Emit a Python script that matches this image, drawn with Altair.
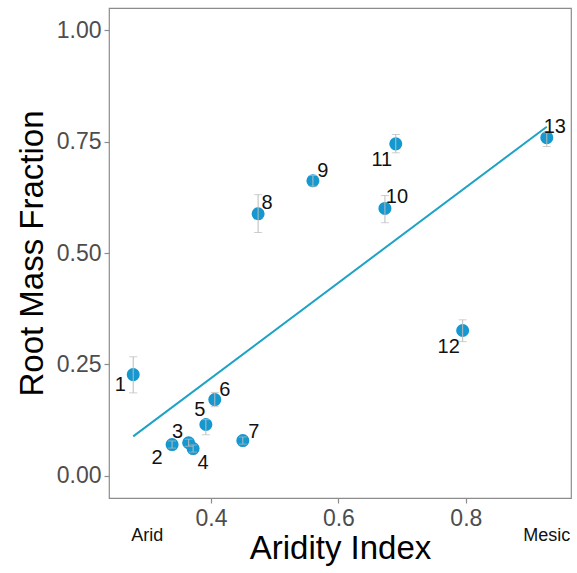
import altair as alt
import pandas as pd

site = [str(i) for i in range(1, 14)]
aridity = [0.278, 0.339, 0.365, 0.372, 0.392, 0.406, 0.450, 0.474, 0.560, 0.673, 0.690, 0.795, 0.927]
rmf = [0.227, 0.070, 0.074, 0.061, 0.115, 0.171, 0.079, 0.588, 0.662, 0.600, 0.745, 0.326, 0.759]
rmf_lo = [0.186, 0.062, 0.066, 0.053, 0.092, 0.155, 0.071, 0.546, 0.650, 0.568, 0.725, 0.301, 0.739]
rmf_hi = [0.267, 0.078, 0.082, 0.069, 0.126, 0.187, 0.087, 0.631, 0.674, 0.629, 0.766, 0.350, 0.770]

# label offsets (pixels) per site
label_dx = {"1": -13, "2": -15, "3": -11, "4": 10, "5": -6, "6": 10, "7": 11,
            "8": 9, "9": 10, "10": 12, "11": -14, "12": -14, "13": 8}
label_dy = {"1": 10, "2": 13, "3": -11, "4": 14, "5": -15, "6": -10, "7": -9,
            "8": -11, "9": -10, "10": -11, "11": 16, "12": 16, "13": -11}

df = pd.DataFrame({"site": site, "ai": aridity, "rmf": rmf, "lo": rmf_lo, "hi": rmf_hi})

end_labels = pd.DataFrame({"ai": [0.30, 0.927], "txt": ["Arid", "Mesic"]})

xs = alt.Scale(domain=[0.24, 0.965], nice=False, zero=False)
ys = alt.Scale(domain=[-0.05, 1.05], nice=False, zero=False)

X = alt.X("ai:Q", scale=xs, title="Aridity Index",
          axis=alt.Axis(values=[0.4, 0.6, 0.8], format=".1f"))
Y = alt.Y("rmf:Q", scale=ys, title="Root Mass Fraction",
          axis=alt.Axis(values=[0, 0.25, 0.5, 0.75, 1.0], format=".2f"))

base = alt.Chart(df)

line = base.transform_regression("ai", "rmf").mark_line(
    color="#1EA3C6", strokeWidth=2).encode(x=X, y=Y)

points = base.mark_circle(size=170, opacity=1, color="#1598CF").encode(x=X, y=Y)

err = base.mark_errorbar(ticks=True, size=8, thickness=1, color="#BBBBBB").encode(
    x=X, y=alt.Y("lo:Q", scale=ys, title="Root Mass Fraction"), y2="hi:Q")

label_layers = []
for s in site:
    label_layers.append(
        base.transform_filter(alt.datum.site == s).mark_text(
            fontSize=20, font="Liberation Sans", color="#111111",
            dx=label_dx[s], dy=label_dy[s]).encode(x=X, y=Y, text="site:N"))

ends = alt.Chart(end_labels).mark_text(fontSize=18, font="Liberation Sans",
                                        color="#111111").encode(
    x=alt.X("ai:Q", scale=xs), y=alt.value(528), text="txt:N")

chart = alt.layer(line, points, err, *label_layers, ends).properties(
    width=462, height=490,
    autosize=alt.AutoSizeParams(type="none"),
    padding={"left": 109, "top": 8, "right": 6, "bottom": 75},
).configure_view(stroke="#8C8C8C", strokeWidth=1.2).configure_axis(
    grid=False, domain=False, tickColor="#8C8C8C", tickSize=5, tickWidth=1.2,
    labelFont="Liberation Sans", labelFontSize=23, labelColor="#4D4D4D",
    titleFont="Liberation Sans", titleFontSize=33, titleColor="#000000",
    titleFontWeight="normal",
).configure_axisX(labelPadding=4, titlePadding=2).configure_axisY(
    labelPadding=3, titlePadding=7)

chart.save("out.html", embed_options={"renderer": "svg", "actions": False})
